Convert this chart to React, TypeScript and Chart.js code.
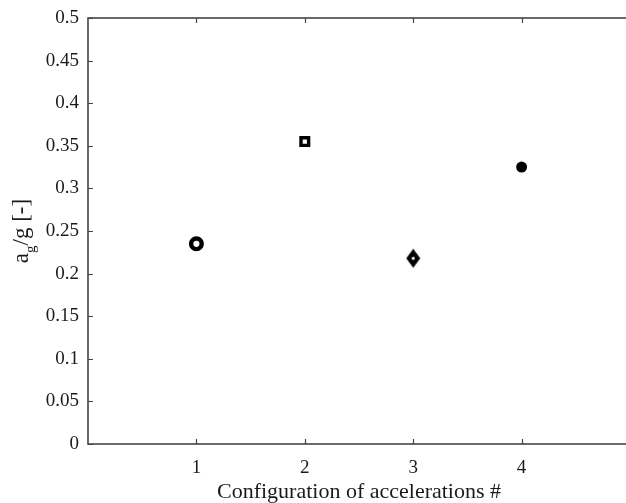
import React, { useEffect, useRef } from "react";
import { Chart, registerables } from "chart.js";

Chart.register(...registerables);

// ---- data ----
const categories = [1, 2, 3, 4];
const values = [0.235, 0.355, 0.218, 0.325];
const seriesNames = ["Configuration 1", "Configuration 2", "Configuration 3", "Configuration 4"];
const markerKinds = ["ring", "square", "diamond", "dot"];
const xTickValues = [1, 2, 3, 4];
const yTickValues = [0, 0.05, 0.1, 0.15, 0.2, 0.25, 0.3, 0.35, 0.4, 0.45, 0.5];
const xTitle = "Configuration of accelerations #";
const yTitleMain = "a";
const yTitleSub = "g";
const yTitleRest = "/g [-]";

const FONT = "'Liberation Serif', 'DejaVu Serif', serif";
const AXIS = "#454545";
const TEXT = "#1a1a1a";

function makeDiamond(): HTMLCanvasElement {
  const c = document.createElement("canvas");
  const w = 15, h = 20;
  c.width = w;
  c.height = h;
  const g = c.getContext("2d")!;
  g.fillStyle = "#000";
  g.beginPath();
  g.moveTo(w / 2, 0.5);
  g.lineTo(w - 0.5, h / 2);
  g.lineTo(w / 2, h - 0.5);
  g.lineTo(0.5, h / 2);
  g.closePath();
  g.fill();
  g.fillStyle = "#fff";
  g.beginPath();
  g.arc(w / 2, h / 2, 1.6, 0, Math.PI * 2);
  g.fill();
  return c;
}

const framePlugin = {
  id: "frame",
  afterDraw(chart: any) {
    const { ctx, chartArea: a } = chart;
    const xs = chart.scales.x;
    const ys = chart.scales.y;
    ctx.save();
    ctx.strokeStyle = AXIS;
    ctx.lineWidth = 1.6;
    ctx.strokeRect(a.left, a.top, a.right - a.left, a.bottom - a.top);
    ctx.lineWidth = 1.2;
    ctx.beginPath();
    const tl = 5;
    xs.ticks.forEach((t: any) => {
      const px = Math.round(xs.getPixelForValue(t.value)) + 0.5;
      ctx.moveTo(px, a.bottom);
      ctx.lineTo(px, a.bottom - tl);
      ctx.moveTo(px, a.top);
      ctx.lineTo(px, a.top + tl);
    });
    ys.ticks.forEach((t: any) => {
      const py = Math.round(ys.getPixelForValue(t.value)) + 0.5;
      ctx.moveTo(a.left, py);
      ctx.lineTo(a.left + tl, py);
    });
    ctx.stroke();

    // y-axis title with subscript
    const mainSize = 23;
    const subSize = 15;
    const mainFont = `${mainSize}px ${FONT}`;
    const subFont = `${subSize}px ${FONT}`;
    ctx.fillStyle = TEXT;
    ctx.textBaseline = "alphabetic";
    ctx.textAlign = "left";
    ctx.font = mainFont;
    const w1 = ctx.measureText(yTitleMain).width;
    const w3 = ctx.measureText(yTitleRest).width;
    ctx.font = subFont;
    const w2 = ctx.measureText(yTitleSub).width;
    const total = w1 + w2 + w3;
    const cy = (a.top + a.bottom) / 2;
    const baseX = 28;
    ctx.translate(baseX, cy);
    ctx.rotate(-Math.PI / 2);
    let x0 = -total / 2;
    ctx.font = mainFont;
    ctx.fillText(yTitleMain, x0, 0);
    x0 += w1;
    ctx.font = subFont;
    ctx.fillText(yTitleSub, x0, 7);
    x0 += w2;
    ctx.font = mainFont;
    ctx.fillText(yTitleRest, x0, 0);
    ctx.restore();
  },
};

export default function App() {
  const ref = useRef<HTMLCanvasElement | null>(null);

  useEffect(() => {
    if (!ref.current) return;
    const diamond = makeDiamond();
    const styleFor = (k: string) => {
      if (k === "ring")
        return { pointStyle: "circle", pointRadius: 5.3, pointBorderWidth: 4.4, pointBackgroundColor: "#fff", pointBorderColor: "#000" };
      if (k === "square")
        return { pointStyle: "rect", pointRadius: 5.4, pointBorderWidth: 3.4, pointBackgroundColor: "#fff", pointBorderColor: "#000" };
      if (k === "diamond")
        return { pointStyle: diamond, pointRadius: 10, pointBorderWidth: 0, pointBackgroundColor: "#000", pointBorderColor: "#000" };
      return { pointStyle: "circle", pointRadius: 5.5, pointBorderWidth: 0, pointBackgroundColor: "#000", pointBorderColor: "#000" };
    };
    const datasets = categories.map((c, i) => ({
      label: seriesNames[i],
      data: [{ x: c, y: values[i] }],
      showLine: false,
      ...styleFor(markerKinds[i]),
    }));

    const chart = new Chart(ref.current, {
      type: "scatter",
      data: { datasets: datasets as any },
      plugins: [framePlugin],
      options: {
        responsive: false,
        animation: false,
        layout: { padding: { top: 18, right: 9, left: 0, bottom: 0 } },
        plugins: { legend: { display: false }, tooltip: { enabled: false } },
        scales: {
          x: {
            type: "linear",
            min: 0,
            max: 5,
            afterBuildTicks: (s: any) => {
              s.ticks = xTickValues.map((v) => ({ value: v }));
            },
            afterFit: (s: any) => {
              s.height = 59;
              s.paddingLeft = 0;
              s.paddingRight = 0;
            },
            grid: { display: false, drawTicks: false },
            border: { display: false },
            ticks: {
              padding: 13,
              color: TEXT,
              font: { family: FONT, size: 19 },
              callback: (v: any) => String(v),
            },
            title: {
              display: true,
              text: xTitle,
              color: TEXT,
              font: { family: FONT, size: 22, lineHeight: 1 },
              padding: { top: 0, bottom: 0 },
            },
          },
          y: {
            type: "linear",
            min: 0,
            max: 0.5,
            afterBuildTicks: (s: any) => {
              s.ticks = yTickValues.map((v) => ({ value: v }));
            },
            afterFit: (s: any) => {
              s.width = 88;
              s.paddingTop = 0;
              s.paddingBottom = 0;
            },
            grid: { display: false, drawTicks: false },
            border: { display: false },
            ticks: {
              padding: 9,
              color: TEXT,
              font: { family: FONT, size: 19 },
              callback: (v: any) => String(parseFloat(Number(v).toFixed(2))),
            },
          },
        },
      },
    });
    return () => chart.destroy();
  }, []);

  return (
    <div style={{ position: "fixed", left: 0, top: 0, width: 626, height: 503, overflow: "hidden", background: "#fff" }}>
      <canvas ref={ref} width={640} height={503} style={{ width: 640, height: 503, display: "block" }} />
    </div>
  );
}
